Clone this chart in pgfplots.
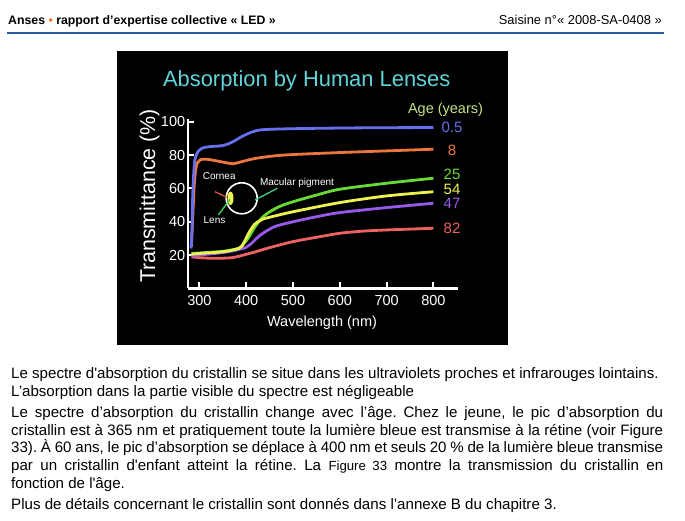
\documentclass[border=0pt]{standalone}
\usepackage{pgfplots}
\pgfplotsset{compat=1.18}
\usepackage{fontspec}
\setmainfont{Liberation Sans}[Ligatures=TeXOff]
\definecolor{cblue}{RGB}{102,112,238}
\definecolor{corange}{RGB}{236,118,62}
\definecolor{cgreen}{RGB}{104,218,52}
\definecolor{cyellow}{RGB}{236,242,78}
\definecolor{cpurple}{RGB}{152,88,236}
\definecolor{cred}{RGB}{236,98,98}
\definecolor{ctitle}{RGB}{96,212,216}
\definecolor{cage}{RGB}{200,226,128}
\definecolor{hblue}{RGB}{40,92,160}
\definecolor{borange}{RGB}{232,122,52}
\definecolor{ccornea}{RGB}{220,88,52}
\definecolor{clensline}{RGB}{60,210,90}
\definecolor{cmac}{RGB}{60,210,140}
\begin{document}
\frenchspacing
\begin{tikzpicture}[x=1pt,y=1pt]
\fill[white] (0,0) rectangle (685,521);
% header
\node[anchor=base west, inner sep=0, font=\fontsize{12.3}{14}\selectfont\bfseries] at (8,496) {Anses {\color{borange}•} rapport d’expertise collective « LED »};
\node[anchor=base east, inner sep=0, font=\fontsize{12.9}{14}\selectfont] at (662,496) {Saisine n°« 2008-SA-0408 »};
\draw[hblue, line width=2pt] (7,488) -- (664,488);
% black panel
\fill[black] (116.7,176) rectangle (508.3,470);
\node[anchor=base, inner sep=0, font=\fontsize{21.9}{24}\selectfont, text=ctitle] at (306.7,434) {Absorption by Human Lenses};
\node[anchor=base, inner sep=0, rotate=90, font=\fontsize{21.4}{24}\selectfont, text=white] at (155,325) {Transmittance (\%)};
\node[anchor=base, inner sep=0, font=\fontsize{14.5}{16}\selectfont, text=white] at (322,194.3) {Wavelength (nm)};
\node[anchor=base, inner sep=0, font=\fontsize{14.5}{16}\selectfont, text=cage] at (445.5,407) {Age (years)};
\begin{axis}[
  at={(187.7pt,232.5pt)}, anchor=south west,
  scale only axis, width=270.5pt, height=169.3pt,
  xmin=275, xmax=853, ymin=0, ymax=101.5,
  axis lines=left, axis line style={-, white, line width=2.4pt},
  xtick={300,400,500,600,700,800}, ytick={20,40,60,80,100},
  tick align=inside, major tick length=6pt,
  major tick style={white, line width=2pt},
  /pgf/number format/assume math mode=true,
  tick label style={font=\fontsize{14.5}{15}\selectfont, text=white},
  yticklabel style={xshift=1pt},
  xticklabel style={yshift=-3.5pt},
  clip=false,
]
\addplot[cred, line width=2.8pt, smooth] coordinates {
 (283,19) (300,18.5) (330,18.1) (370,18.5) (400,20.5) (420,22) (450,24.5) (500,28.1) (550,30.7) (600,33.1) (650,34.4) (700,35.1) (750,35.6) (800,36.1)};
\addplot[cpurple, line width=2.8pt, smooth] coordinates {
 (283,19.5) (300,20.1) (350,21.5) (380,23.1) (400,24.7) (415,28) (430,32) (460,37) (500,40) (550,43) (600,45.5) (700,48.5) (800,51.1)};
\addplot[cgreen, line width=2.8pt, smooth] coordinates {
 (283,21) (300,21.3) (350,22.3) (385,24.2) (395,27) (405,30.5) (420,37.5) (440,44) (470,49) (500,52) (550,56) (600,59.5) (700,63.1) (800,66.1)};
\addplot[cyellow, line width=2.8pt, smooth] coordinates {
 (283,20.5) (300,21) (350,22) (385,24.1) (395,27.5) (405,33) (418,38.5) (435,41.5) (450,42.7) (500,46) (600,51.5) (700,55.5) (800,58)};
\addplot[corange, line width=2.8pt, smooth] coordinates {
 (283,25) (285,38) (287,50) (289,62) (292,71) (296,75.5) (302,77.2) (315,77.5) (335,76.6) (355,75.5) (372,74.8) (390,76) (420,78) (460,79.5) (500,80.3) (600,81.5) (700,82.5) (800,83.5)};
\addplot[cblue, line width=2.8pt, smooth] coordinates {
 (282,24) (284,34) (286,58) (289,74) (292,79) (297,82) (305,84) (320,85) (345,85.5) (360,86.5) (375,88.5) (390,91) (405,93) (420,94.5) (440,95.3) (500,95.8) (600,96.2) (700,96.4) (800,96.5)};
\end{axis}
% series labels
\begin{scope}[every node/.style={inner sep=0, font=\fontsize{15}{16}\selectfont}]
\node[text=cblue] at (452,393.3) {0.5};
\node[text=corange] at (452,371) {8};
\node[text=cgreen] at (452,346.5) {25};
\node[text=cyellow] at (452,331.5) {54};
\node[text=cpurple] at (452,317.2) {47};
\node[text=cred] at (452,292.7) {82};
\end{scope}
% eye annotation
\draw[white, line width=1.6pt] (241.7,322.7) circle[radius=15.5];
\fill[cyellow] (230.5,322.7) ellipse[x radius=3, y radius=6.7];
\draw[ccornea, line width=1.3pt] (215,329.3) -- (226.7,323.7);
\draw[clensline, line width=1.3pt] (218.3,306) -- (230,321.7);
\draw[cmac, line width=1.3pt] (277.3,332.7) -- (255,321);
\begin{scope}[every node/.style={inner sep=0, font=\fontsize{10}{11}\selectfont, text=white}]
\node at (219.2,345) {Cornea};
\node at (214.5,301) {Lens};
\node at (297,337.7) {Macular pigment};
\end{scope}
% body text
\begin{scope}[every node/.style={anchor=base west, inner sep=0, font=\fontsize{15.1}{17}\selectfont}]
\node at (11,142) {Le spectre d'absorption du cristallin se situe dans les ultraviolets proches et infrarouges lointains.};
\node at (11,124) {L’absorption dans la partie visible du spectre est négligeable};
\node at (11,103.5) {\makebox[652pt][s]{Le spectre d’absorption du cristallin change avec l’âge. Chez le jeune, le pic d’absorption du}};
\node at (11,85.8) {\makebox[652pt][s]{cristallin est à 365 nm et pratiquement toute la lumière bleue est transmise à la rétine (voir Figure}};
\node at (11,68.1) {\makebox[652pt][s]{33). À 60 ans, le pic d’absorption se déplace à 400 nm et seuls 20 \% de la lumière bleue transmise}};
\node at (11,50.4) {\makebox[652pt][s]{par un cristallin d'enfant atteint la rétine. La {\fontsize{13.2}{15}\selectfont Figure 33} montre la transmission du cristallin en}};
\node at (11,32.7) {fonction de l'âge.};
\node at (11,11.5) {Plus de détails concernant le cristallin sont donnés dans l’annexe B du chapitre 3.};
\end{scope}
\end{tikzpicture}
\end{document}
